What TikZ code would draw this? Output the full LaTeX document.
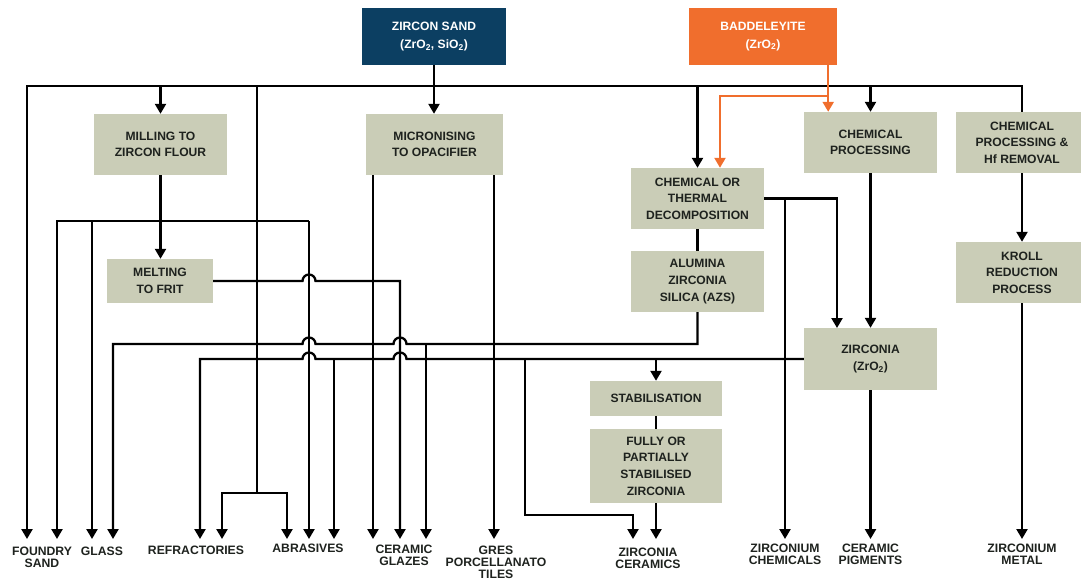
\documentclass[tikz,border=0pt]{standalone}
\usepackage{fontspec}
\setmainfont{Liberation Sans}
\usetikzlibrary{arrows.meta,calc}
\definecolor{boxfill}{RGB}{202,205,183}
\definecolor{navy}{RGB}{12,63,98}
\definecolor{orng}{RGB}{240,110,45}
\definecolor{txt}{RGB}{30,34,30}
\begin{document}
\begin{tikzpicture}[x=1pt,y=-1pt,
 proc/.style={fill=boxfill, inner sep=0pt, align=center, font=\fontsize{12.1}{16.6}\selectfont\bfseries, text=txt},
 src/.style={inner sep=0pt, align=center, font=\fontsize{12.1}{17.5}\selectfont\bfseries, text=white},
 outlbl/.style={inner sep=0pt, align=center, anchor=north, font=\fontsize{12.2}{11.8}\selectfont\bfseries, text=txt},
 conn/.style={line width=2.3pt, draw=black},
 arr/.style={conn, -{Triangle[width=11pt,length=10pt]}},
 oarr/.style={line width=2.3pt, draw=orng, -{Triangle[width=11pt,length=10pt]}}
]
\useasboundingbox (0,0) rectangle (1081,581);

% source boxes
\node[src, fill=navy, minimum width=144pt, minimum height=57pt] (zs) at (434,36.5) {ZIRCON SAND\\(ZrO\textsubscript{2}, SiO\textsubscript{2})};
\node[src, fill=orng, minimum width=148pt, minimum height=57pt] (bd) at (763,36.5) {BADDELEYITE\\(ZrO\textsubscript{2})};

% process boxes
\node[proc, minimum width=133pt, minimum height=61pt] (mill) at (160.5,144.5) {MILLING TO\\ZIRCON FLOUR};
\node[proc, minimum width=137pt, minimum height=61pt] (micro) at (434.5,144.5) {MICRONISING\\TO OPACIFIER};
\node[proc, minimum width=133pt, minimum height=61pt] (chem) at (870.5,142.5) {CHEMICAL\\PROCESSING};
\node[proc, minimum width=132pt, minimum height=61pt] (hf) at (1022,142.5) {CHEMICAL\\PROCESSING \&\\Hf REMOVAL};
\node[proc, minimum width=133pt, minimum height=61pt] (cot) at (697.5,198.5) {CHEMICAL OR\\THERMAL\\DECOMPOSITION};
\node[proc, minimum width=133pt, minimum height=61pt] (azs) at (697.5,281.5) {ALUMINA\\ZIRCONIA\\SILICA (AZS)};
\node[proc, minimum width=106pt, minimum height=44pt] (melt) at (160,281) {MELTING\\TO FRIT};
\node[proc, minimum width=132pt, minimum height=61pt] (kroll) at (1022,272.5) {KROLL\\REDUCTION\\PROCESS};
\node[proc, minimum width=133pt, minimum height=62pt] (zirc) at (870.5,359) {ZIRCONIA\\(ZrO\textsubscript{2})};
\node[proc, minimum width=132pt, minimum height=35pt] (stab) at (656,398.5) {STABILISATION};
\node[proc, minimum width=132pt, minimum height=74pt] (fps) at (656,466) {FULLY OR\\PARTIALLY\\STABILISED\\ZIRCONIA};

% output labels
\node[outlbl] (lFS) at (42,547) {FOUNDRY\\SAND};
\node[outlbl] (lGl) at (102,547) {GLASS};
\node[outlbl] (lRf) at (196,546) {REFRACTORIES};
\node[outlbl] (lAb) at (308,544) {ABRASIVES};
\node[outlbl] (lCG) at (404,545) {CERAMIC\\GLAZES};
\node[outlbl] (lGr) at (496,546) {GRES\\PORCELLANATO\\TILES};
\node[outlbl] (lZC) at (648,548) {ZIRCONIA\\CERAMICS};
\node[outlbl] (lZCh) at (785,544) {ZIRCONIUM\\CHEMICALS};
\node[outlbl] (lCP) at (870.5,544) {CERAMIC\\PIGMENTS};
\node[outlbl] (lZM) at (1022,544) {ZIRCONIUM\\METAL};

% named coordinates
\coordinate (busL) at (27,86);
\coordinate (j257t) at (257,86);
\coordinate (j257b) at (257,493);
\coordinate (fA) at (57,221);
\coordinate (fG) at (92,221);
\coordinate (fB) at (309,221);
\coordinate (mc1) at (373,175);
\coordinate (mc2) at (494,175);
\coordinate (jCG3) at (426,344);
\coordinate (jAb3) at (334,359);
\coordinate (jZC) at (525,359);
\coordinate (jStab) at (656,359);
\coordinate (zcBend) at (633,515);
\coordinate (jZCh) at (785,198.5);
\coordinate (zircIn) at (837,328);
\coordinate (tFS1) at (27,539);
\coordinate (tFS2) at (57,539);
\coordinate (tGl1) at (92,539);
\coordinate (tGl2) at (113,539);
\coordinate (tRf1) at (200,539);
\coordinate (tRf2) at (222,539);
\coordinate (tAb1) at (287,539);
\coordinate (tAb2) at (309,539);
\coordinate (tAb3) at (334,539);
\coordinate (tCG1) at (373,539);
\coordinate (tCG2) at (400,539);
\coordinate (tCG3) at (426,539);
\coordinate (tGr) at (494,539);
\coordinate (tZC1) at (633,539);
\coordinate (tZC2) at (656,539);
\coordinate (tZCh) at (785,539);
\coordinate (tCP) at (870.5,539);
\coordinate (tZM) at (1022,539);
\coordinate (bdOut) at ($(bd.south east)+(-9,0)$);
\coordinate (oSplit) at (828,96);
\coordinate (cotIn) at ($(cot.north)+(22.5,0)$);

% main bus
\draw[arr] (hf.north) |- (busL) -- (tFS1);
\draw[arr] (zs.south) -- (zs.south |- micro.north);
\draw[arr] (busL -| mill.north) -- (mill.north);
\draw[conn] (j257t) -- (j257b);
\draw[arr] (j257b) -| (tRf2);
\draw[arr] (j257b) -| (tAb1);
\draw[arr] (busL -| cot.north) -- (cot.north);
\draw[arr] (busL -| chem.north) -- (chem.north);

% milling
\draw[arr] (mill.south) -- (mill.south |- melt.north);
\draw[arr] (fB) -- (fA) -- (tFS2);
\draw[arr] (fG) -- (tGl1);
\draw[arr] (fB) -- (tAb2);

% micronising
\draw[arr] (mc1) -- (tCG1);
\draw[arr] (mc2) -- (tGr);

% frit
\draw[arr] (melt.east) -- (302.5,281) arc[start angle=180,end angle=0,radius=6.5pt] -- (400,281) -- (tCG2);

% chem / thermal decomposition
\draw[conn] (cot.south) -- (azs.north);
\draw[arr] (cot.east) -| (zircIn);
\draw[arr] (jZCh) -- (tZCh);

% AZS line
\draw[arr] (azs.south) |- (406.5,344) arc[start angle=0,end angle=180,radius=6.5pt] -- (315.5,344) arc[start angle=0,end angle=180,radius=6.5pt] -- (113,344) -- (tGl2);
\draw[arr] (jCG3) -- (tCG3);

% zirconia line
\draw[arr] (zirc.west) -- (406.5,359) arc[start angle=0,end angle=180,radius=6.5pt] -- (315.5,359) arc[start angle=0,end angle=180,radius=6.5pt] -- (200,359) -- (tRf1);
\draw[arr] (jAb3) -- (tAb3);
\draw[arr] (jStab) -- (stab.north);
\draw[arr] (jZC) |- (zcBend) -- (tZC1);
\draw[conn] (stab.south) -- (fps.north);
\draw[arr] (fps.south) -- (tZC2);

% chemical processing
\draw[arr] (chem.south) -- (zirc.north);
\draw[arr] (zirc.south) -- (tCP);
\draw[arr] (hf.south) -- (kroll.north);
\draw[arr] (kroll.south) -- (tZM);

% baddeleyite
\draw[oarr] (bdOut) -- (bdOut |- chem.north);
\draw[oarr] (oSplit) -| (cotIn);
\end{tikzpicture}
\end{document}
